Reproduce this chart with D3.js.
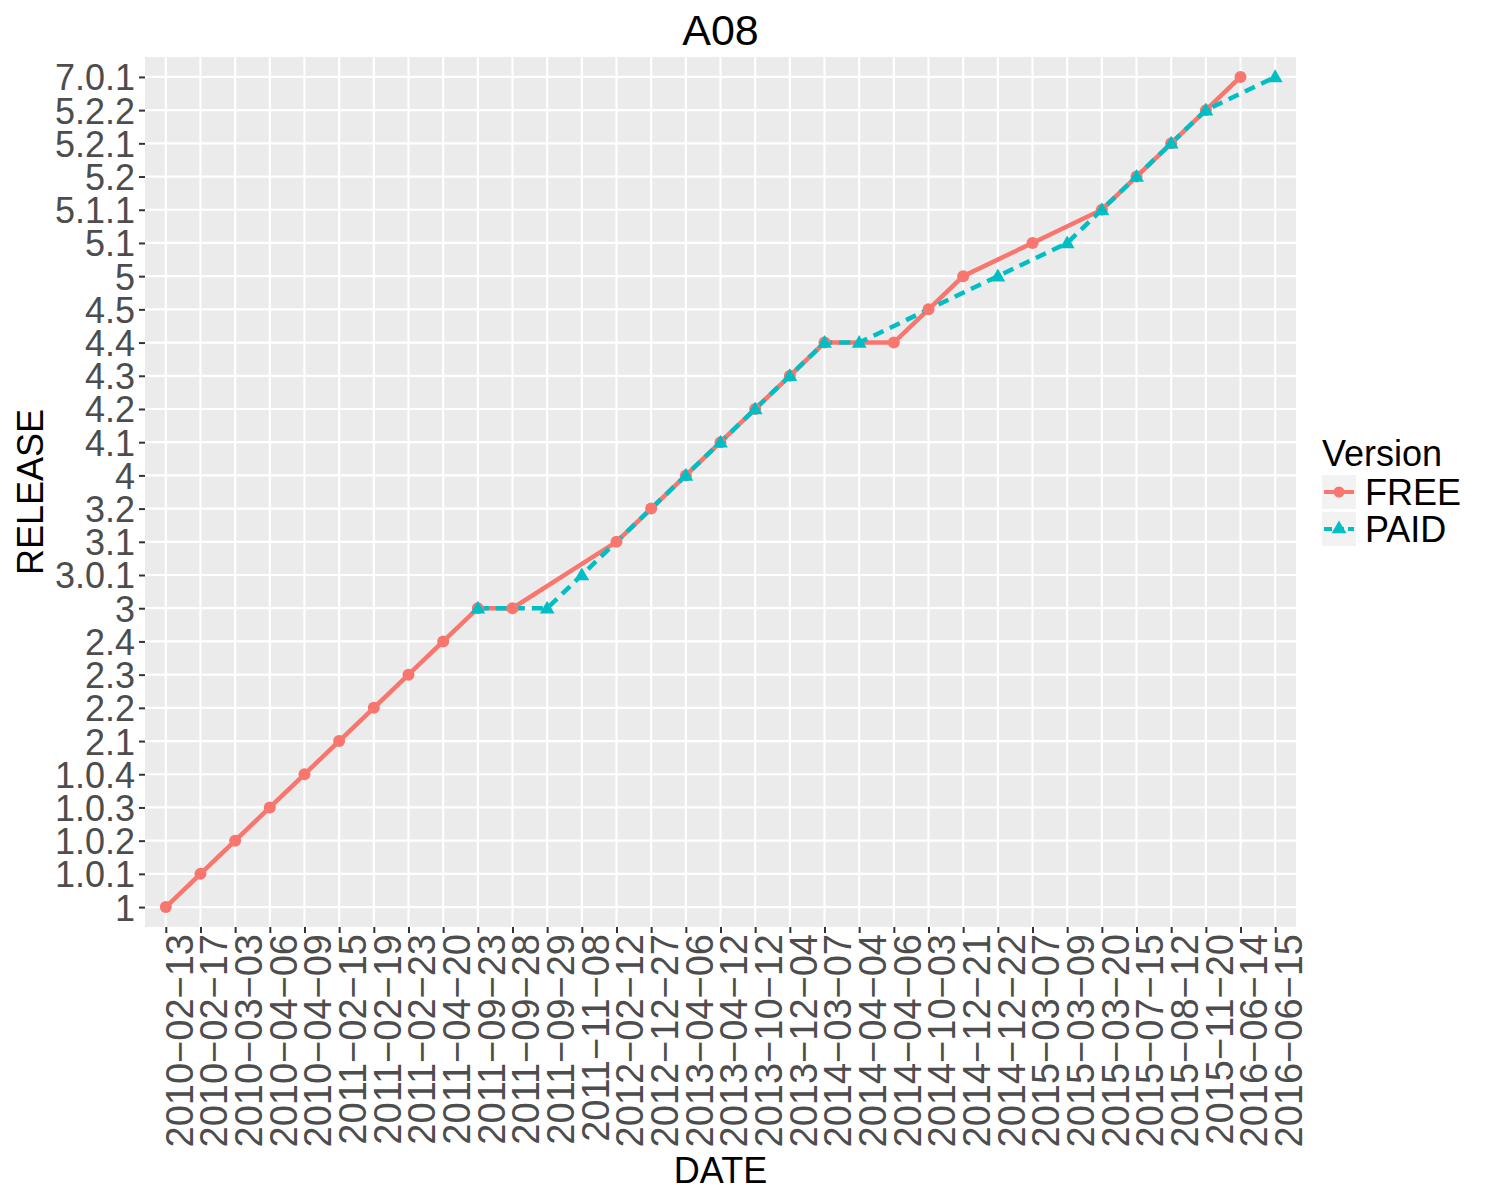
<!DOCTYPE html>
<html>
<head>
<meta charset="utf-8">
<script src="https://cdn.jsdelivr.net/npm/d3@7"></script>
<style>
  body { margin: 0; background: #fff; }
  text { font-family: "Liberation Sans", Arial, Helvetica, sans-serif; }
</style>
</head>
<body>
<div id="chart"></div>
<script>
// x categories (release dates)
const dates = [
  "2010-02-13", "2010-02-17", "2010-03-03", "2010-04-06", "2010-04-09",
  "2011-02-15", "2011-02-19", "2011-02-23", "2011-04-20", "2011-09-23",
  "2011-09-28", "2011-09-29", "2011-11-08", "2012-02-12", "2012-12-27",
  "2013-04-06", "2013-04-12", "2013-10-12", "2013-12-04", "2014-03-07",
  "2014-04-04", "2014-04-06", "2014-10-03", "2014-12-21", "2014-12-22",
  "2015-03-07", "2015-03-09", "2015-03-20", "2015-07-15", "2015-08-12",
  "2015-11-20", "2016-06-14", "2016-06-15"
];

// y categories (release names), bottom to top
const releases = [
  "1", "1.0.1", "1.0.2", "1.0.3", "1.0.4", "2.1", "2.2", "2.3", "2.4",
  "3", "3.0.1", "3.1", "3.2", "4", "4.1", "4.2", "4.3", "4.4", "4.5",
  "5", "5.1", "5.1.1", "5.2", "5.2.1", "5.2.2", "7.0.1"
];

const freeDates = [
  "2010-02-13", "2010-02-17", "2010-03-03", "2010-04-06", "2010-04-09",
  "2011-02-15", "2011-02-19", "2011-02-23", "2011-04-20", "2011-09-23",
  "2011-09-28", "2012-02-12", "2012-12-27", "2013-04-06", "2013-04-12",
  "2013-10-12", "2013-12-04", "2014-03-07", "2014-04-06", "2014-10-03",
  "2014-12-21", "2015-03-07", "2015-03-20", "2015-07-15", "2015-08-12",
  "2015-11-20", "2016-06-14"
];
const freeReleases = [
  "1", "1.0.1", "1.0.2", "1.0.3", "1.0.4",
  "2.1", "2.2", "2.3", "2.4", "3",
  "3", "3.1", "3.2", "4", "4.1",
  "4.2", "4.3", "4.4", "4.4", "4.5",
  "5", "5.1", "5.1.1", "5.2", "5.2.1",
  "5.2.2", "7.0.1"
];

const paidDates = [
  "2011-09-23", "2011-09-29", "2011-11-08", "2013-04-06", "2013-04-12",
  "2013-10-12", "2013-12-04", "2014-03-07", "2014-04-04", "2014-12-22",
  "2015-03-09", "2015-03-20", "2015-07-15", "2015-08-12", "2015-11-20",
  "2016-06-15"
];
const paidReleases = [
  "3", "3", "3.0.1", "4", "4.1",
  "4.2", "4.3", "4.4", "4.4", "5",
  "5.1", "5.1.1", "5.2", "5.2.1", "5.2.2",
  "7.0.1"
];

const series = [
  { name: "FREE", color: "#F8766D", dash: null, shape: "circle",
    data: freeDates.map((d, i) => ({ date: d, release: freeReleases[i] })) },
  { name: "PAID", color: "#00BFC4", dash: "11,7", shape: "triangle",
    data: paidDates.map((d, i) => ({ date: d, release: paidReleases[i] })) }
];

const config = {
  width: 1500,
  height: 1200,
  margin: { top: 57, right: 204, bottom: 273, left: 145 }
};

const width = config.width - config.margin.left - config.margin.right;
const height = config.height - config.margin.top - config.margin.bottom;

const svg = d3.select("#chart")
  .append("svg")
  .attr("width", config.width)
  .attr("height", config.height);

const g = svg.append("g")
  .attr("transform", `translate(${config.margin.left},${config.margin.top})`);

const xScale = d3.scalePoint().domain(dates).range([0, width]).padding(0.6);
const yScale = d3.scalePoint().domain(releases).range([height, 0]).padding(0.6);

// panel + grid
g.append("rect")
  .attr("width", width)
  .attr("height", height)
  .attr("fill", "#EBEBEB");

g.selectAll(".vgrid")
  .data(dates)
  .join("line")
  .attr("x1", d => xScale(d))
  .attr("x2", d => xScale(d))
  .attr("y1", 0)
  .attr("y2", height)
  .attr("stroke", "#fff")
  .attr("stroke-width", 2.2);

g.selectAll(".hgrid")
  .data(releases)
  .join("line")
  .attr("x1", 0)
  .attr("x2", width)
  .attr("y1", d => yScale(d))
  .attr("y2", d => yScale(d))
  .attr("stroke", "#fff")
  .attr("stroke-width", 2.2);

// axes
const xAxis = d3.axisBottom(xScale).tickSize(6).tickPadding(3)
  .tickFormat(d => d.replace(/-/g, "\u2212"));
const yAxis = d3.axisLeft(yScale).tickSize(6).tickPadding(4);

const xAxisGroup = g.append("g")
  .attr("transform", `translate(0,${height})`)
  .call(xAxis);
xAxisGroup.select(".domain").remove();
xAxisGroup.selectAll(".tick line").attr("stroke", "#333").attr("stroke-width", 2);
// ggplot puts the rotated label to the right of its tick
xAxisGroup.selectAll(".tick text")
  .attr("font-size", 38)
  .attr("fill", "#4D4D4D")
  .attr("transform", "rotate(-90)")
  .attr("text-anchor", "end")
  .attr("x", -7)
  .attr("y", -1)
  .attr("dy", "0.72em");

const yAxisGroup = g.append("g").call(yAxis);
yAxisGroup.select(".domain").remove();
yAxisGroup.selectAll(".tick line").attr("stroke", "#333").attr("stroke-width", 2);
yAxisGroup.selectAll(".tick text")
  .attr("font-size", 36)
  .attr("fill", "#4D4D4D")
  .attr("dy", "0.36em");

// lines
const line = d3.line()
  .x(d => xScale(d.date))
  .y(d => yScale(d.release));

series.forEach(s => {
  g.append("path")
    .datum(s.data)
    .attr("d", line)
    .attr("fill", "none")
    .attr("stroke", s.color)
    .attr("stroke-width", 4.5)
    .attr("stroke-dasharray", s.dash);
});

// points
const triangle = d3.symbol().type(d3.symbolTriangle).size(95);

series.forEach(s => {
  if (s.shape === "circle") {
    g.selectAll(null)
      .data(s.data)
      .join("circle")
      .attr("cx", d => xScale(d.date))
      .attr("cy", d => yScale(d.release))
      .attr("r", 6)
      .attr("fill", s.color);
  } else {
    g.selectAll(null)
      .data(s.data)
      .join("path")
      .attr("d", triangle)
      .attr("transform", d => `translate(${xScale(d.date)},${yScale(d.release) + 1})`)
      .attr("fill", s.color);
  }
});

// titles
svg.append("text")
  .attr("x", config.margin.left + width / 2)
  .attr("y", 45)
  .attr("text-anchor", "middle")
  .attr("font-size", 43)
  .text("A08");

svg.append("text")
  .attr("x", config.margin.left + width / 2)
  .attr("y", 1183)
  .attr("text-anchor", "middle")
  .attr("font-size", 36)
  .text("DATE");

svg.append("text")
  .attr("transform", `translate(43,${config.margin.top + height / 2}) rotate(-90)`)
  .attr("text-anchor", "middle")
  .attr("font-size", 36)
  .text("RELEASE");

// legend
const legend = svg.append("g").attr("transform", "translate(1322,0)");

legend.append("text")
  .attr("x", 0)
  .attr("y", 466)
  .attr("font-size", 36)
  .text("Version");

series.forEach((s, i) => {
  const ky = 475 + i * 37;
  const key = legend.append("g").attr("transform", `translate(0,${ky})`);
  key.append("rect")
    .attr("width", 34)
    .attr("height", 34)
    .attr("fill", "#F2F2F2");
  key.append("line")
    .attr("x1", 2)
    .attr("x2", 32)
    .attr("y1", 17)
    .attr("y2", 17)
    .attr("stroke", s.color)
    .attr("stroke-width", 4)
    .attr("stroke-dasharray", s.dash ? "8,4" : null);
  if (s.shape === "circle") {
    key.append("circle").attr("cx", 17).attr("cy", 17).attr("r", 5.5).attr("fill", s.color);
  } else {
    key.append("path").attr("d", triangle).attr("transform", "translate(17,17)").attr("fill", s.color);
  }
  key.append("text")
    .attr("x", 43)
    .attr("y", 17)
    .attr("dy", "0.36em")
    .attr("font-size", 36)
    .text(s.name);
});
</script>
</body>
</html>
